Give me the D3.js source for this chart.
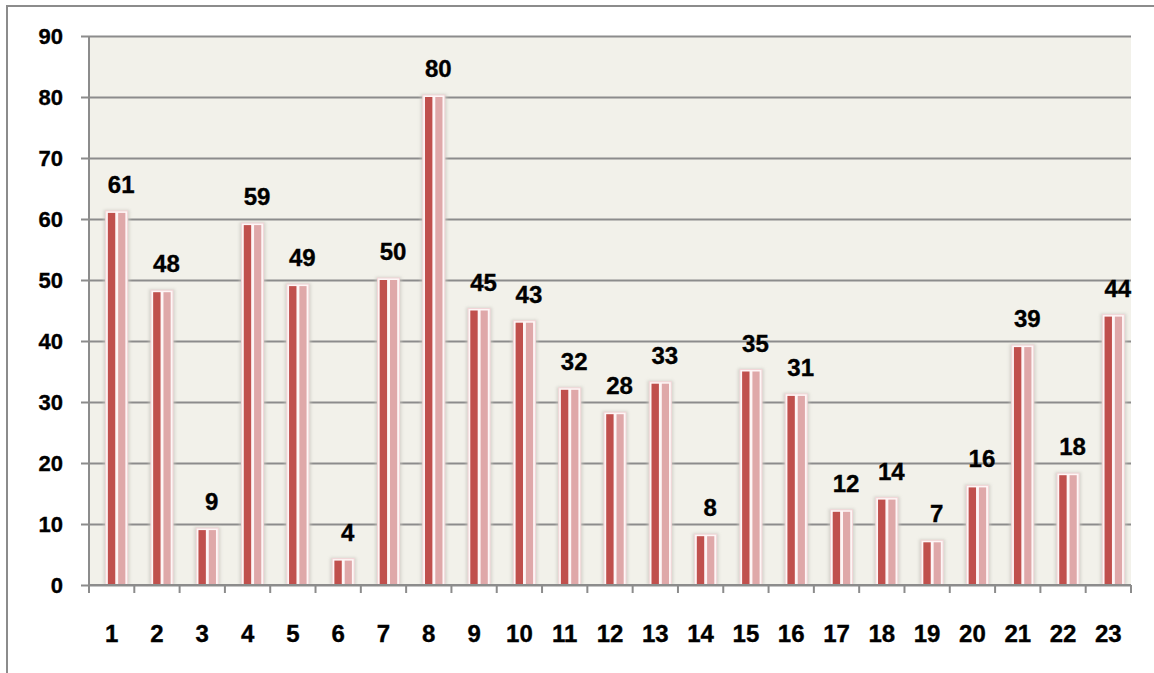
<!DOCTYPE html>
<html>
<head>
<meta charset="utf-8">
<script src="https://cdn.jsdelivr.net/npm/d3@7/dist/d3.min.js"></script>
<style>
  html, body { margin: 0; padding: 0; background: #ffffff; }
  svg { display: block; }
  text { font-family: "Liberation Sans", Arial, sans-serif; font-weight: bold; fill: #000; stroke: #000; stroke-width: 0.35px; }
</style>
</head>
<body>
<svg id="chart" width="1154" height="673"></svg>
<script>
// Category labels and values
const categories = ["1","2","3","4","5","6","7","8","9","10","11","12","13","14","15","16","17","18","19","20","21","22","23"];
const values = [61, 48, 9, 59, 49, 4, 50, 80, 45, 43, 32, 28, 33, 8, 35, 31, 12, 14, 7, 16, 39, 18, 44];
const yTicks = [0, 10, 20, 30, 40, 50, 60, 70, 80, 90];

const W = 1154, H = 673;
const plot = { left: 89, right: 1131, top: 36, bottom: 585 };

const svg = d3.select("#chart");

const defs = svg.append("defs");
defs.append("filter").attr("id", "soft")
  .attr("x", "-50%").attr("y", "-10%").attr("width", "200%").attr("height", "120%")
  .append("feGaussianBlur").attr("stdDeviation", 1.6);

// Outer frame
svg.append("line").attr("x1", 7).attr("x2", W).attr("y1", 6).attr("y2", 6)
  .attr("stroke", "#8c8c8c").attr("stroke-width", 2);
svg.append("line").attr("x1", 7).attr("x2", 7).attr("y1", 5).attr("y2", H)
  .attr("stroke", "#8c8c8c").attr("stroke-width", 2);

const x = d3.scaleBand().domain(categories).range([plot.left, plot.right]).paddingInner(0).paddingOuter(0);
const y = d3.scaleLinear().domain([0, 90]).range([plot.bottom, plot.top]);

// Plot background
svg.append("rect")
  .attr("x", plot.left).attr("y", plot.top)
  .attr("width", plot.right - plot.left).attr("height", plot.bottom - plot.top)
  .attr("fill", "#f2f1ea");

// Gridlines, extended left past the axis as tick stubs
const gy = svg.append("g").attr("transform", `translate(${plot.right},0)`);
gy.call(d3.axisLeft(y).tickValues(yTicks).tickSize(plot.right - plot.left + 8).tickFormat(""));
gy.select(".domain").remove();
gy.selectAll(".tick line").attr("stroke", "#8c8c8c").attr("stroke-width", 2);

// Y tick labels
svg.append("g").selectAll("text").data(yTicks).join("text")
  .attr("x", 63).attr("y", d => y(d)).attr("dy", "0.36em")
  .attr("text-anchor", "end").attr("font-size", 22)
  .text(d => d);

// Left axis line
svg.append("line").attr("x1", plot.left).attr("x2", plot.left)
  .attr("y1", plot.top).attr("y2", plot.bottom + 8)
  .attr("stroke", "#8c8c8c").attr("stroke-width", 2);

// Bottom axis ticks at category boundaries
const bounds = categories.map(c => x(c)).concat([plot.right]);
svg.append("g").selectAll("line").data(bounds).join("line")
  .attr("x1", d => d).attr("x2", d => d)
  .attr("y1", plot.bottom).attr("y2", plot.bottom + 8)
  .attr("stroke", "#8c8c8c").attr("stroke-width", 2);

// Category labels
svg.append("g").selectAll("text").data(categories).join("text")
  .attr("x", d => x(d) + x.bandwidth() / 2)
  .attr("y", 642)
  .attr("text-anchor", "middle").attr("font-size", 24)
  .text(d => d);

// Bars: soft shadow, white rim, dark left half, light right half
const data = categories.map((c, i) => ({ c, v: values[i] }));
const cx = d => x(d.c) + x.bandwidth() / 2 + 5;

const bars = svg.append("g");
bars.selectAll("rect.shadow").data(data).join("rect").attr("class", "shadow")
  .attr("x", d => cx(d) - 13).attr("width", 26)
  .attr("y", d => y(d.v) - 3).attr("height", d => plot.bottom - y(d.v) + 3)
  .attr("fill", "#c9c7c0").attr("opacity", 0.7).attr("filter", "url(#soft)");
bars.selectAll("rect.rim").data(data).join("rect").attr("class", "rim")
  .attr("x", d => cx(d) - 11).attr("width", 22)
  .attr("y", d => y(d.v) - 2).attr("height", d => plot.bottom - y(d.v) + 2)
  .attr("fill", "#fdf6f6").attr("stroke", "#f2d6d8").attr("stroke-width", 1);
bars.selectAll("rect.dark").data(data).join("rect").attr("class", "dark")
  .attr("x", d => cx(d) - 8.8).attr("width", 7.4)
  .attr("y", d => y(d.v)).attr("height", d => plot.bottom - y(d.v))
  .attr("fill", "#c0504d");
bars.selectAll("rect.light").data(data).join("rect").attr("class", "light")
  .attr("x", d => cx(d) + 1.5).attr("width", 7.2)
  .attr("y", d => y(d.v)).attr("height", d => plot.bottom - y(d.v))
  .attr("fill", "#dfa8a9");

// Bottom axis line drawn over the bars
svg.append("line").attr("x1", plot.left).attr("x2", plot.right)
  .attr("y1", plot.bottom).attr("y2", plot.bottom)
  .attr("stroke", "#8c8c8c").attr("stroke-width", 2);

// Value labels
svg.append("g").selectAll("text").data(data).join("text")
  .attr("x", d => cx(d) + 4.5)
  .attr("y", d => y(d.v) - 20)
  .attr("text-anchor", "middle").attr("font-size", 24)
  .text(d => d.v);
</script>
</body>
</html>
